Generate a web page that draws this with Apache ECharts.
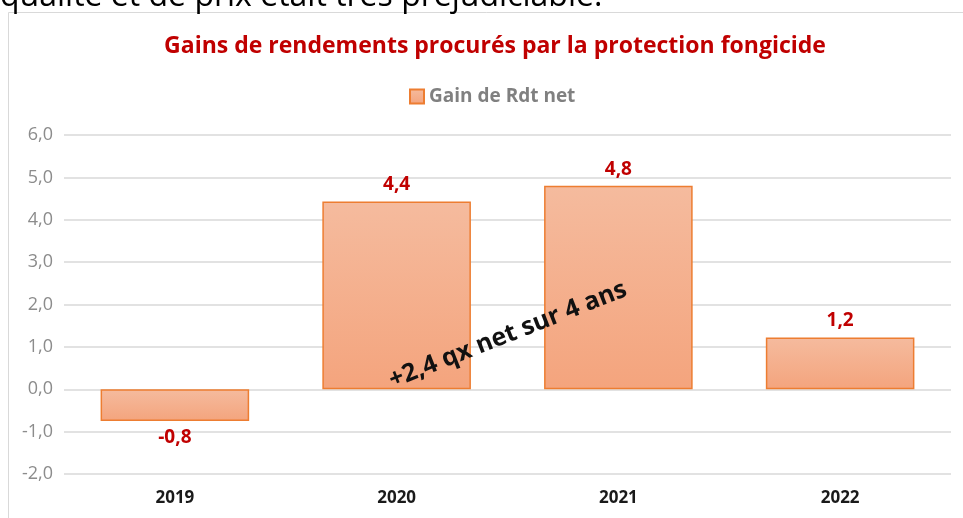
<!DOCTYPE html>
<html>
<head>
<meta charset="utf-8">
<script src="https://cdn.jsdelivr.net/npm/echarts@6/dist/echarts.min.js"></script>
<style>
  html, body { margin: 0; padding: 0; background: #fff; }
  #chart { width: 963px; height: 518px; }
</style>
</head>
<body>
<div id="chart"></div>
<script>
// données
const years = ['2019', '2020', '2021', '2022']
const gains = [-0.75, 4.43, 4.8, 1.22]
const yTicks = { min: -2, max: 6, interval: 1 }
const seriesName = 'Gain de Rdt net'
const titleText = 'Gains de rendements procurés par la protection fongicide'
const noteText = '+2,4 qx net sur 4 ans'
const headText = 'qualité et de prix était très préjudiciable.'

const fmt = v => v.toFixed(1).replace('.', ',')

const chart = echarts.init(document.getElementById('chart'))

const barFill = new echarts.graphic.LinearGradient(0, 0, 0, 1, [
  { offset: 0, color: '#f5bb9e' },
  { offset: 1, color: '#f4a47d' }
])

const option = {
  animation: false,
  backgroundColor: '#ffffff',
  textStyle: { fontFamily: 'Open Sans' },
  title: {
    text: titleText,
    left: 490,
    textAlign: 'center',
    top: 30,
    textStyle: { color: '#c00000', fontSize: 23, fontWeight: 'bold', fontFamily: 'Open Sans' }
  },
  legend: {
    data: [seriesName],
    left: 404,
    top: 82,
    icon: 'rect',
    itemWidth: 14,
    itemHeight: 14,
    itemGap: 4,
    textStyle: { color: '#808080', fontSize: 19, fontWeight: 'bold' }
  },
  grid: { left: 64, right: 12, top: 135, bottom: 44 },
  xAxis: {
    type: 'category',
    data: years,
    axisLine: { show: false },
    axisTick: { show: false },
    axisLabel: { color: '#1a1a1a', fontSize: 17, fontWeight: 'bold', margin: 16 }
  },
  yAxis: {
    type: 'value',
    min: yTicks.min,
    max: yTicks.max,
    interval: yTicks.interval,
    axisLine: { show: false },
    axisTick: { show: false },
    axisLabel: { color: '#8c8c8c', fontSize: 18, margin: 11, formatter: fmt },
    splitLine: { lineStyle: { color: '#d9d9d9', width: 1.5 } }
  },
  series: [{
    name: seriesName,
    type: 'bar',
    barWidth: '67%',
    data: gains.map(v => ({
      value: v,
      label: { position: v < 0 ? 'bottom' : 'top' }
    })),
    itemStyle: { color: barFill, borderColor: '#ed7d31', borderWidth: 1.5 },
    label: {
      show: true,
      distance: 7,
      color: '#c00000',
      fontSize: 19,
      fontWeight: 'bold',
      formatter: p => fmt(p.value)
    }
  }],
  graphic: [
    {
      type: 'rect',
      shape: { x: 8.5, y: 12.5, width: 970, height: 520 },
      style: { fill: null, stroke: '#d9d9d9', lineWidth: 1 },
      silent: true
    },
    {
      type: 'text',
      x: 0,
      y: 13,
      style: { text: headText, fill: '#000', fontSize: 32, fontFamily: 'Open Sans', verticalAlign: 'bottom' },
      silent: true
    },
    {
      type: 'text',
      x: 508,
      y: 335,
      rotation: 21.5 * Math.PI / 180,
      z: 100,
      style: {
        text: noteText,
        fill: '#111',
        fontSize: 25,
        fontWeight: 'bold',
        fontFamily: 'Open Sans',
        align: 'center',
        verticalAlign: 'middle'
      },
      silent: true
    }
  ]
}

chart.setOption(option)
</script>
</body>
</html>
